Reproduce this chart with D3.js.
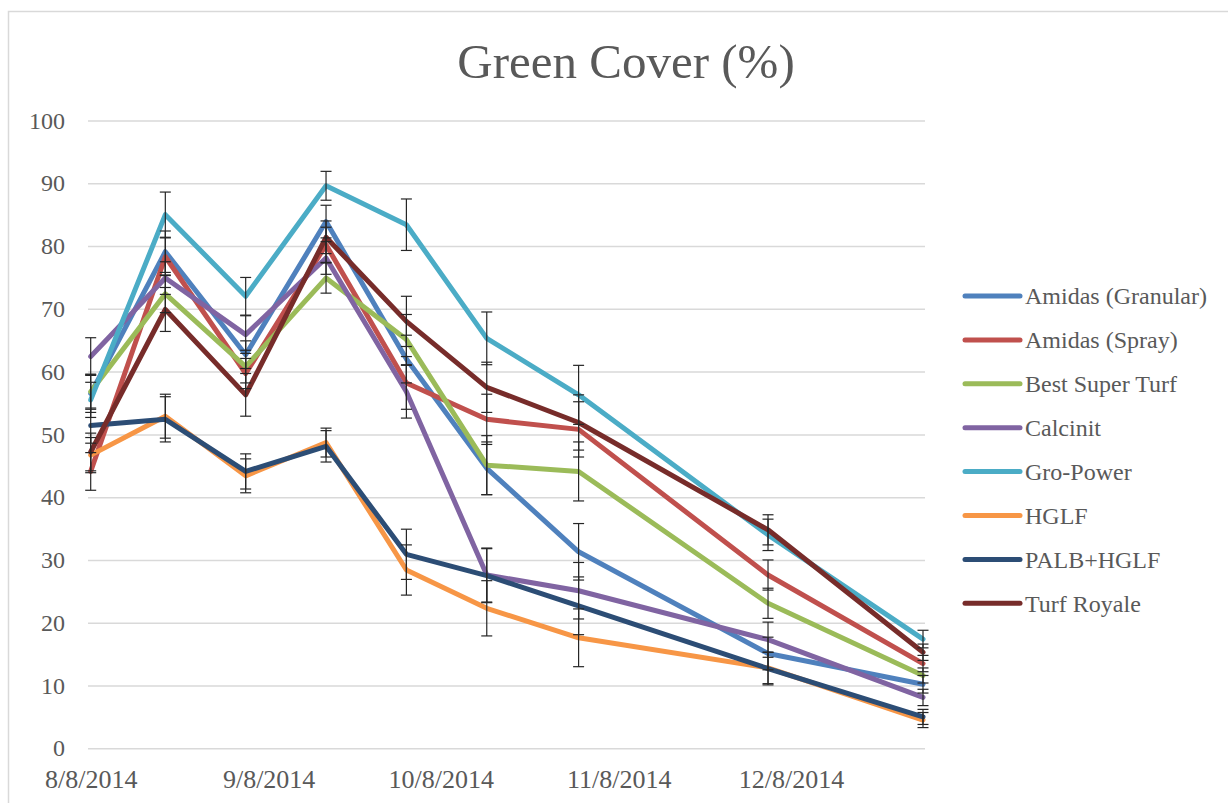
<!DOCTYPE html>
<html>
<head>
<meta charset="utf-8">
<script src="https://cdn.jsdelivr.net/npm/d3@7"></script>
<style>
  body { margin: 0; background: #fff; }
  svg { display: block; font-family: "Liberation Serif", "DejaVu Serif", serif; }
</style>
</head>
<body>
<svg class="chart"></svg>
<script>
var width = 1228,
    height = 803;

// sampling dates and the tick labels on the date axis
var dates = ["2014-08-08", "2014-08-21", "2014-09-04", "2014-09-18", "2014-10-02",
             "2014-10-16", "2014-11-01", "2014-12-04", "2014-12-31"];
var xTicks = ["2014-08-08", "2014-09-08", "2014-10-08", "2014-11-08", "2014-12-08"];
var yTicks = [0, 10, 20, 30, 40, 50, 60, 70, 80, 90, 100];

var seriesNames = ["Amidas (Granular)", "Amidas (Spray)", "Best Super Turf", "Calcinit",
                   "Gro-Power", "HGLF", "PALB+HGLF", "Turf Royale"];
var seriesColors = ["#4f81bd", "#c0504d", "#9bbb59", "#8064a2",
                    "#4bacc6", "#f79646", "#2c4d75", "#772c2a"];

var amidasGranular = [56.5, 79.1, 62.7, 83.9, 62.0, 44.6, 31.3, 15.1, 10.2];
var amidasSpray    = [44.1, 78.3, 59.7, 80.2, 58.2, 52.4, 50.8, 27.6, 13.5];
var bestSuperTurf  = [56.8, 72.4, 60.8, 74.9, 65.1, 45.1, 44.1, 23.1, 11.6];
var calcinit       = [62.4, 74.9, 65.9, 78.1, 56.8, 27.6, 25.1, 17.3, 8.1];
var groPower       = [55.5, 85.0, 72.0, 89.6, 83.4, 65.3, 56.3, 34.0, 17.4];
var hglf           = [46.7, 52.9, 43.4, 48.7, 28.4, 22.3, 17.6, 12.8, 4.5];
var palbHglf       = [51.4, 52.4, 44.1, 48.1, 30.9, 27.5, 22.7, 12.7, 5.0];
var turfRoyale     = [47.2, 69.9, 56.3, 81.4, 68.0, 57.5, 51.9, 34.8, 15.3];

// error bar half-widths (+/-)
var errAmidasGranular = [3.0, 3.3, 2.2, 2.6, 3.8, 4.2, 4.5, 2.6, 1.4];
var errAmidasSpray    = [3.0, 3.0, 2.4, 2.8, 4.2, 4.0, 4.4, 2.4, 1.3];
var errBestSuperTurf  = [2.8, 3.0, 2.6, 2.4, 4.0, 4.7, 4.7, 2.4, 1.2];
var errCalcinit       = [3.0, 2.6, 3.0, 2.6, 4.2, 4.3, 4.5, 2.8, 1.3];
var errGroPower       = [2.8, 3.6, 3.0, 2.3, 4.1, 4.2, 4.7, 2.5, 1.4];
var errHglf           = [2.8, 3.5, 2.7, 2.3, 4.0, 4.4, 4.6, 2.5, 1.2];
var errPalbHglf       = [2.8, 3.6, 2.8, 2.5, 4.0, 4.3, 4.6, 2.6, 1.2];
var errTurfRoyale     = [3.0, 3.5, 3.4, 2.6, 4.0, 4.0, 4.4, 2.4, 1.3];

var allValues = [amidasGranular, amidasSpray, bestSuperTurf, calcinit,
                 groPower, hglf, palbHglf, turfRoyale];
var allErrors = [errAmidasGranular, errAmidasSpray, errBestSuperTurf, errCalcinit,
                 errGroPower, errHglf, errPalbHglf, errTurfRoyale];

var parseDate = d3.timeParse("%Y-%m-%d");
var formatDate = d3.timeFormat("%-m/%-d/%Y");

var series = seriesNames.map(function (name, i) {
    return {
        name: name,
        color: seriesColors[i],
        points: dates.map(function (d, j) {
            return { date: parseDate(d), value: allValues[i][j], err: allErrors[i][j] };
        })
    };
});

var plotLeft = 88,
    plotRight = 925,
    plotTop = 120.5,
    plotBottom = 748.3;

var svg = d3.select(".chart")
    .attr("width", width)
    .attr("height", height);

svg.append("rect")
    .attr("width", width)
    .attr("height", height)
    .attr("fill", "#fff");

// chart frame
svg.append("rect")
    .attr("x", 8.5)
    .attr("y", 11.5)
    .attr("width", width + 20)
    .attr("height", height + 20)
    .attr("fill", "none")
    .attr("stroke", "#d9d9d9")
    .attr("stroke-width", 1.5);

var x = d3.scaleTime()
    .domain([parseDate(dates[0]), parseDate(dates[dates.length - 1])])
    .range([90.7, 923]);

var y = d3.scaleLinear()
    .domain([0, 100])
    .range([plotBottom, plotTop]);

// y axis with gridlines
var yAxis = svg.append("g")
    .attr("transform", "translate(" + plotLeft + ",0)")
    .call(d3.axisLeft(y)
        .tickValues(yTicks)
        .tickSize(-(plotRight - plotLeft))
        .tickPadding(23));

yAxis.select(".domain").remove();
yAxis.selectAll(".tick line")
    .attr("stroke", "#d9d9d9")
    .attr("stroke-width", 1.5);
yAxis.selectAll(".tick text")
    .attr("fill", "#595959")
    .attr("font-size", 24)
    .attr("font-family", "Liberation Serif");

// x axis, labels only
var xAxis = svg.append("g")
    .attr("transform", "translate(0," + plotBottom + ")")
    .call(d3.axisBottom(x)
        .tickValues(xTicks.map(parseDate))
        .tickFormat(formatDate)
        .tickSize(0)
        .tickPadding(21));

xAxis.select(".domain").remove();
xAxis.selectAll(".tick text")
    .attr("fill", "#595959")
    .attr("font-size", 26)
    .attr("font-family", "Liberation Serif");

// lines
var line = d3.line()
    .x(function (d) { return x(d.date); })
    .y(function (d) { return y(d.value); });

svg.append("g")
    .selectAll("path")
    .data(series)
    .enter()
    .append("path")
    .attr("d", function (d) { return line(d.points); })
    .attr("fill", "none")
    .attr("stroke", function (d) { return d.color; })
    .attr("stroke-width", 5)
    .attr("stroke-linejoin", "round")
    .attr("stroke-linecap", "round");

// error bars
var errPoints = [];
series.forEach(function (s) {
    s.points.forEach(function (p) { errPoints.push(p); });
});

var bars = svg.append("g")
    .attr("stroke", "#262626")
    .attr("stroke-width", 1.2)
    .selectAll("g")
    .data(errPoints)
    .enter()
    .append("g");

bars.append("line")
    .attr("x1", function (d) { return x(d.date); })
    .attr("x2", function (d) { return x(d.date); })
    .attr("y1", function (d) { return y(d.value + d.err); })
    .attr("y2", function (d) { return y(d.value - d.err); });

bars.append("line")
    .attr("x1", function (d) { return x(d.date) - 5.5; })
    .attr("x2", function (d) { return x(d.date) + 5.5; })
    .attr("y1", function (d) { return y(d.value + d.err); })
    .attr("y2", function (d) { return y(d.value + d.err); });

bars.append("line")
    .attr("x1", function (d) { return x(d.date) - 5.5; })
    .attr("x2", function (d) { return x(d.date) + 5.5; })
    .attr("y1", function (d) { return y(d.value - d.err); })
    .attr("y2", function (d) { return y(d.value - d.err); });

// title
svg.append("text")
    .attr("x", 626)
    .attr("y", 78)
    .attr("text-anchor", "middle")
    .attr("fill", "#595959")
    .attr("font-size", 49)
    .text("Green Cover (%)");

// legend
var legend = svg.append("g")
    .selectAll("g")
    .data(series)
    .enter()
    .append("g")
    .attr("transform", function (d, i) {
        return "translate(965," + (296 + i * 43.9) + ")";
    });

legend.append("line")
    .attr("x1", 0)
    .attr("x2", 55)
    .attr("stroke", function (d) { return d.color; })
    .attr("stroke-width", 5)
    .attr("stroke-linecap", "round");

legend.append("text")
    .attr("x", 60)
    .attr("dy", "0.35em")
    .attr("fill", "#595959")
    .attr("font-size", 24)
    .text(function (d) { return d.name; });
</script>
</body>
</html>
